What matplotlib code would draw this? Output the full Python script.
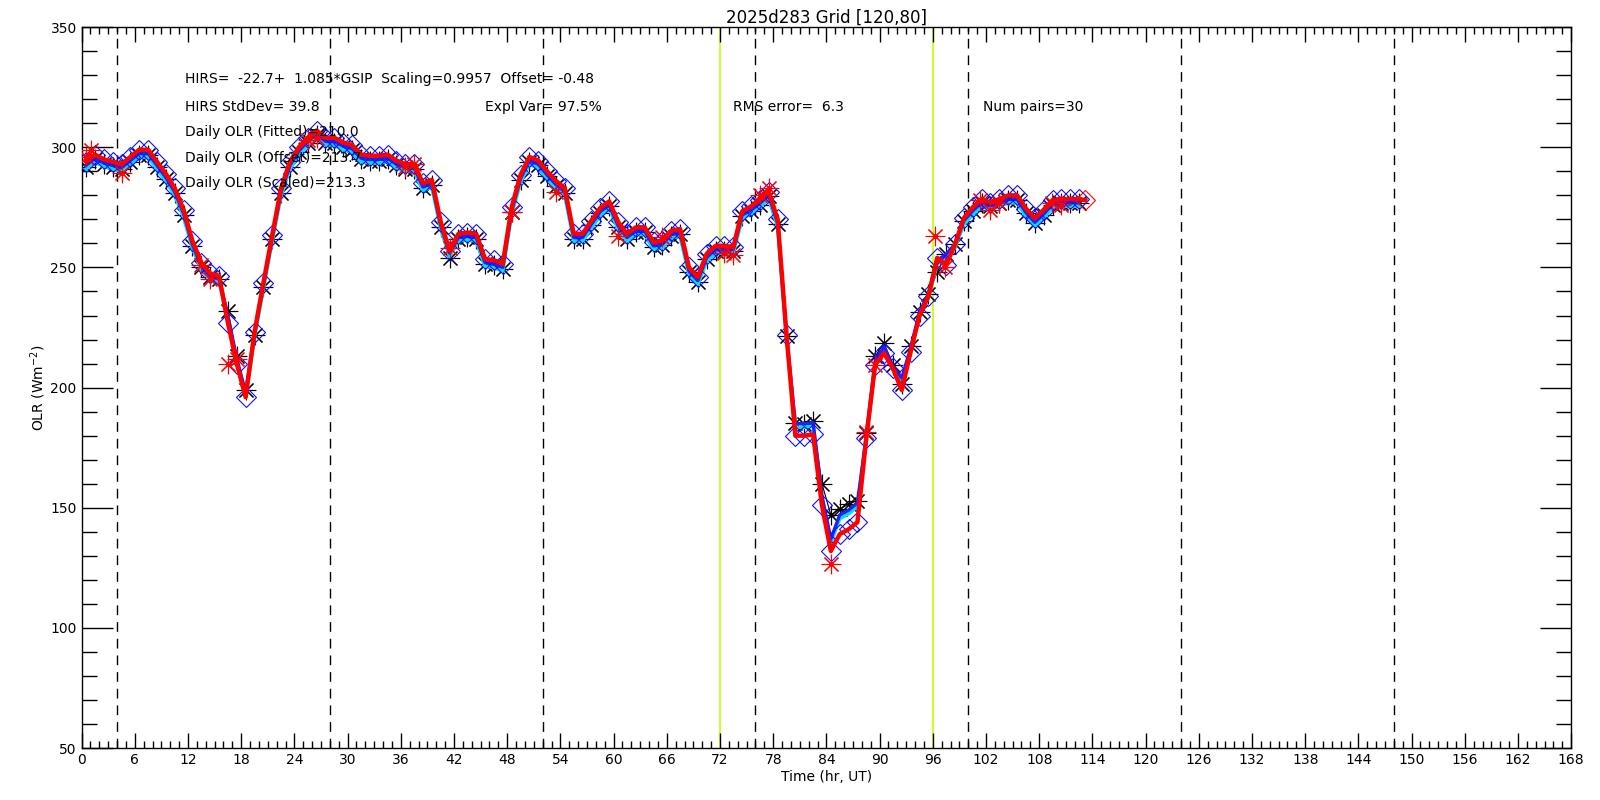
import matplotlib
matplotlib.use('Agg')
import matplotlib.pyplot as plt
from matplotlib.ticker import MultipleLocator
import numpy as np

# hourly times (hr, UT)
hours = np.arange(0.5, 113.0, 1.0)

# GSIP OLR (black asterisks)
olr_gsip = [292, 295, 293, 292, 291, 294, 297, 297, 292, 287,
            281, 272, 259, 250, 246, 245, 232, 213, 199, 222,
            242, 262, 281, 292, 298, 302, 305, 302, 302, 300,
            299, 295, 294.5, 294.5, 295, 292.5, 291, 291, 283, 284.5,
            267, 254, 262, 262.5, 262, 251.5, 251, 249.5, 273, 286.5,
            294, 292.5, 288, 284, 281, 262, 262, 267.5, 272.8, 275.5,
            267, 262, 264.7, 264.7, 258.5, 259.2, 263.3, 264, 248, 244,
            253.7, 257, 257, 257, 271.4, 273.4, 276.2, 279.6, 268, 221.5,
            185.2, 185, 186, 160, 147, 149.4, 151.5, 153, 181, 213,
            218.5, 209.6, 201.4, 217.2, 231.6, 239, 248, 255.6, 259.6, 269.2,
            273.3, 276.7, 275.4, 276.7, 278.1, 278.1, 272.6, 268.5, 271.9, 276,
            276.7, 276.7, 276.7]

# fitted OLR (blue line)
olr_fitted = [292.5, 295.5, 293.5, 292.5, 291.5, 294.5, 297.5, 297.5, 292.5, 287.5,
              281.5, 272.5, 259.5, 250.5, 246.5, 245.5, 230, 212, 198, 222.5,
              242.5, 262.5, 281.5, 292.5, 298.5, 302.5, 305.5, 302.5, 302.5, 300.5,
              299.5, 295.5, 295, 295, 295.5, 293, 291.5, 291.5, 283.5, 285,
              267.5, 256, 262.5, 263, 262.5, 252, 251.5, 250, 273.5, 287,
              294.5, 293, 288.5, 284.5, 281.5, 262.5, 262.5, 268, 273.3, 276,
              267.5, 262.5, 265.2, 265.2, 259, 259.7, 263.8, 264.5, 248.5, 244.5,
              254.2, 257.5, 257.5, 257.5, 271.9, 273.9, 276.7, 280.1, 268.5, 222,
              185, 185, 185.5, 155, 137, 147, 149, 152, 180, 211,
              217, 209, 204, 216.5, 231.5, 239, 253, 255.5, 259.8, 269.5,
              273.6, 277, 275.7, 277, 278.4, 278.4, 272.9, 268.8, 272.2, 276.3,
              277, 277, 277]

# offset OLR (cyan line)
olr_offset = [291, 294, 292, 291, 290, 293, 296, 296, 291, 286,
              280, 271, 258, 249, 245, 244, 228.5, 210.5, 196.5, 221,
              241, 261, 280, 291, 297, 301, 304, 301, 301, 299,
              298, 294, 293.5, 293.5, 294, 291.5, 290, 290, 282, 283.5,
              266, 254.5, 261, 261.5, 261, 250.5, 250, 248.5, 272, 285.5,
              293, 291.5, 287, 283, 280, 261, 261, 266.5, 271.8, 274.5,
              266, 261, 263.7, 263.7, 257.5, 258.2, 262.3, 263, 247, 243,
              252.7, 256, 256, 256, 270.4, 272.4, 275.2, 278.6, 267, 220.5,
              183.5, 183.5, 184, 153.5, 135.5, 145.5, 147.5, 150.5, 178.5, 209.5,
              215.5, 207.5, 202.5, 215, 230, 237.5, 251.5, 254, 258.3, 268,
              272.1, 275.5, 274.2, 275.5, 276.9, 276.9, 271.4, 267.3, 270.7, 274.8,
              275.5, 275.5, 275.5]

# scaled OLR (red line, blue diamonds)
olr_scaled = [294, 297, 295, 294, 293, 296, 299, 299, 294, 289,
              283, 274, 261, 252, 247.5, 246.5, 227, 210, 196, 223,
              243.5, 263.5, 283, 294, 300, 304, 307, 304, 304, 302,
              301, 297, 296.5, 296.5, 297, 294.5, 293, 293, 285, 286.5,
              269, 257, 264, 264.5, 264, 253.5, 253, 251.5, 275, 288.5,
              296, 294.5, 290, 286, 283, 264, 264, 269.5, 274.8, 277.5,
              269, 264, 266.7, 266.7, 260.5, 261.2, 265.3, 266, 250, 246,
              255.7, 259, 259, 258.5, 273.4, 275.4, 278.2, 281.6, 270, 222,
              180, 180, 180.5, 151, 132, 139, 141, 144, 179, 209.6,
              214.4, 208, 199, 215, 230, 238, 254, 251, 259.6, 270.5,
              275, 278.5, 277, 278.5, 280, 280, 274.5, 270.5, 274, 278,
              278.5, 278.5, 278.5]
end_hour = [113.2]
end_olr = [278]

# HIRS matched pairs (red asterisks)
hirs_hours = [0.5, 1.1, 4.5, 13.5, 14.5, 16.5, 17.5, 25.5, 26.5, 36.5,
              37.5, 41.5, 48.5, 53.5, 60.5, 65.5, 72.5, 73.5, 76.5, 77.5,
              84.5, 88.5, 89.5, 96.3, 97.4, 101.3, 102.4, 103.5, 109.4, 110.5]
hirs_olr = [296, 299, 289.5, 251, 245, 210, 212, 303, 304, 292,
            293, 258, 273, 281.5, 263, 262.5, 256, 255, 280, 283,
            126.5, 181.7, 209.6, 263, 250, 278, 274, 277, 277, 276]

day_lines = [4, 28, 52, 76, 100, 124, 148]
window_lines = [72, 96]

stats_lines = ['HIRS=  -22.7+  1.085*GSIP  Scaling=0.9957  Offset= -0.48',
               'HIRS StdDev= 39.8',
               'Daily OLR (Fitted)=210.0',
               'Daily OLR (Offset)=213.7',
               'Daily OLR (Scaled)=213.3']

fig = plt.figure(figsize=(16, 8), dpi=100)
ax = fig.add_axes([0.051, 0.065, 0.931, 0.901])

for d in day_lines:
    ax.axvline(d, color='black', lw=1.0, ls=(0, (7, 5)), zorder=1)
for w in window_lines:
    ax.axvline(w, color='#bfff00', lw=1.2, zorder=1)

ax.plot(hours, olr_gsip, color='black', lw=0.8, zorder=2)
ax.plot(hours, olr_gsip, ls='none', marker=(8, 2, 0), ms=14, mec='black', mew=0.8, zorder=2)
ax.plot(hours, olr_offset, color='#00e0f0', lw=2.6, zorder=3)
ax.plot(hours, olr_fitted, color='#2020ff', lw=2.4, zorder=4)
ax.plot(hours, olr_scaled, ls='none', marker='D', ms=10, mfc='none', mec='#1010ff', mew=0.8, zorder=4)
ax.plot(hours, olr_scaled, color='red', lw=3.2, zorder=5)
ax.plot([hours[-1], end_hour[0]], [olr_scaled[-1], end_olr[0]], color='red', lw=3.2, zorder=5)
ax.plot(end_hour, end_olr, ls='none', marker='D', ms=10, mfc='none', mec='red', mew=0.8, zorder=5)
ax.plot(hirs_hours, hirs_olr, ls='none', marker=(8, 2, 0), ms=14, mec='red', mew=0.8, zorder=6)
ax.plot(hirs_hours, hirs_olr, ls='none', marker='o', ms=2.5, mfc='red', mec='red', zorder=6)

# annotation block
ax.text(11.7, 328.3, stats_lines[0], fontsize=10, va='center')
ax.text(11.7, 316.8, stats_lines[1], fontsize=10, va='center')
ax.text(45.5, 316.8, 'Expl Var= 97.5%', fontsize=10, va='center')
ax.text(73.5, 316.8, 'RMS error=  6.3', fontsize=10, va='center')
ax.text(101.7, 316.8, 'Num pairs=30', fontsize=10, va='center')
ax.text(11.7, 306.2, stats_lines[2], fontsize=10, va='center', zorder=7)
ax.text(11.7, 295.6, stats_lines[3], fontsize=10, va='center', zorder=7)
ax.text(11.7, 285, stats_lines[4], fontsize=10, va='center', zorder=7)

ax.set_xlim(0, 168)
ax.set_ylim(50, 350)
ax.xaxis.set_major_locator(MultipleLocator(6))
ax.xaxis.set_minor_locator(MultipleLocator(1))
ax.yaxis.set_major_locator(MultipleLocator(50))
ax.yaxis.set_minor_locator(MultipleLocator(10))
ax.tick_params(axis='x', which='major', direction='in', length=11, width=1, top=True, labelsize=10)
ax.tick_params(axis='x', which='minor', direction='in', length=5, width=1, top=True)
ax.tick_params(axis='y', which='major', direction='in', length=22, width=1, right=True, labelsize=10)
ax.tick_params(axis='y', which='minor', direction='in', length=11, width=1, right=True)
for s in ax.spines.values():
    s.set_linewidth(1.0)

ax.set_xlabel('Time (hr, UT)', fontsize=10, labelpad=2)
ax.set_ylabel('OLR (Wm$^{-2}$)', fontsize=10, labelpad=2)
ax.set_title('2025d283 Grid [120,80]', fontsize=12, pad=3)

fig.savefig('out.png', dpi=100, facecolor='white')
